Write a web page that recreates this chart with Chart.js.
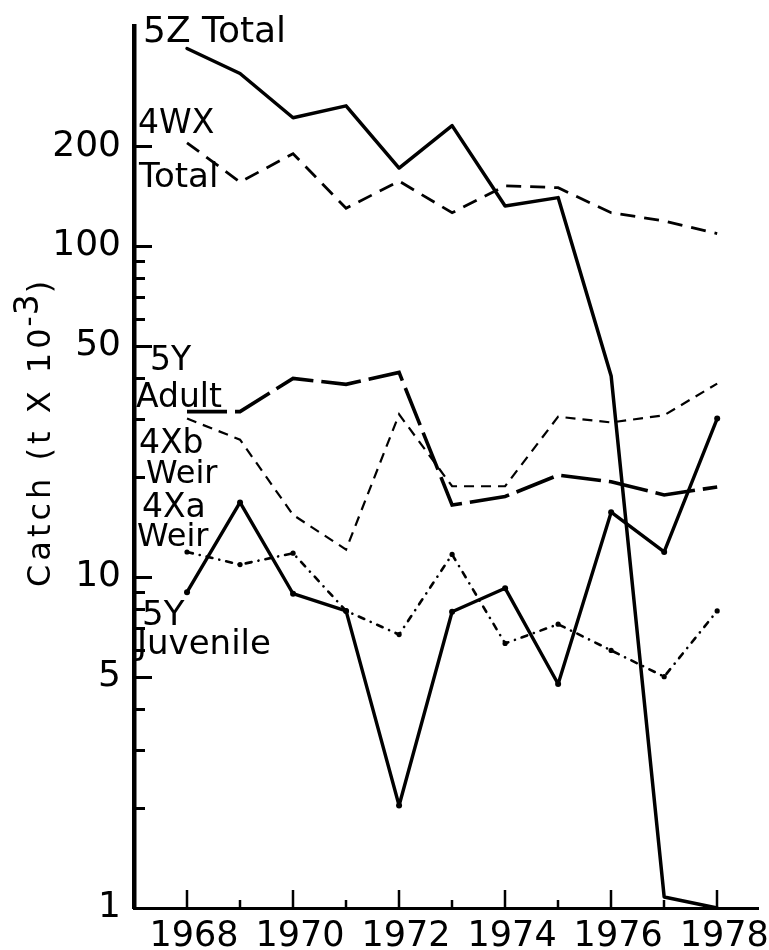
<!DOCTYPE html>
<html>
<head>
<meta charset="utf-8">
<title>Catch by stock, 1968–1978</title>
<script src="https://cdn.jsdelivr.net/npm/chart.js@4"></script>
<style>
  html, body { margin: 0; padding: 0; background: #fff; }
  #wrap { width: 769px; height: 950px; }
</style>
</head>
<body>
<div id="wrap"><canvas id="chart" width="769" height="950"></canvas></div>
<script>
// Annual catch (thousands of tonnes) by stock component
const years = [1968, 1969, 1970, 1971, 1972, 1973, 1974, 1975, 1976, 1977, 1978];
const catch5ZTotal    = [395, 332, 244, 265, 172, 231, 132, 140, 40.5, 1.08, 1.0];
const catch4WXTotal   = [205, 156, 190, 130, 157, 126, 152, 150, 126, 119, 109];
const catch5YAdult    = [31.6, 31.6, 39.8, 38.2, 41.5, 16.5, 17.5, 20.3, 19.4, 17.7, 18.7];
const catch4XbWeir    = [30.1, 26.0, 15.4, 12.1, 31.0, 18.8, 18.8, 30.5, 29.3, 30.8, 38.4];
const catch4XaWeir    = [11.9, 10.9, 11.8, 7.9, 6.7, 11.7, 6.3, 7.2, 6.0, 5.0, 7.9];
const catch5YJuvenile = [9.0, 16.8, 8.9, 7.9, 2.04, 7.85, 9.25, 4.75, 15.7, 11.9, 30.1];

// Axis ticks and which of them carry a label
const xTickYears  = [1967, 1968, 1969, 1970, 1971, 1972, 1973, 1974, 1975, 1976, 1977, 1978];
const xLabelYears = [1968, 1970, 1972, 1974, 1976, 1978];
const yTickValues = [1, 2, 3, 4, 5, 6, 7, 8, 9, 10, 20, 30, 40, 50, 60, 70, 80, 90, 100, 200];
const yLabelValues = [1, 5, 10, 50, 100, 200];

// In-plot series captions (left edge x, baseline y, font size)
const seriesCaptions = [
  { text: '5Z Total', x: 143, y: 42,  size: 36 },
  { text: '4WX',      x: 138, y: 133, size: 33 },
  { text: 'Total',    x: 139, y: 187, size: 34 },
  { text: '5Y',       x: 150, y: 370, size: 33 },
  { text: 'Adult',    x: 136, y: 407, size: 33 },
  { text: '4Xb',      x: 139, y: 453, size: 33 },
  { text: 'Weir',     x: 146, y: 483, size: 32 },
  { text: '4Xa',      x: 142, y: 517, size: 33 },
  { text: 'Weir',     x: 137, y: 546, size: 32 },
  { text: '5Y',       x: 142, y: 625, size: 34 },
  { text: 'Juvenile', x: 137, y: 654, size: 34 }
];

const FONT = '"DejaVu Sans", Verdana, sans-serif';

function pts(values) {
  return years.map((yr, i) => ({ x: yr, y: values[i] }));
}

// Short tick marks pointing into the plot area
const inwardTicks = {
  id: 'inwardTicks',
  afterDraw(chart) {
    const { ctx, chartArea, scales } = chart;
    ctx.save();
    ctx.strokeStyle = '#000';
    ctx.lineCap = 'butt';
    ctx.lineWidth = 3;
    scales.y.ticks.forEach(t => {
      const py = Math.round(scales.y.getPixelForValue(t.value)) + 0.5;
      const len = yLabelValues.includes(t.value) ? 18 : 11;
      ctx.beginPath();
      ctx.moveTo(chartArea.left, py);
      ctx.lineTo(chartArea.left + len, py);
      ctx.stroke();
    });
    ctx.lineWidth = 2.5;
    scales.x.ticks.forEach(t => {
      if (t.value === scales.x.min) return;
      const px = Math.round(scales.x.getPixelForValue(t.value));
      const len = xLabelYears.includes(t.value) ? 18 : 8;
      ctx.beginPath();
      ctx.moveTo(px, chartArea.bottom);
      ctx.lineTo(px, chartArea.bottom - len);
      ctx.stroke();
    });
    ctx.restore();
  }
};

// Series captions written inside the plot
const captions = {
  id: 'captions',
  afterDraw(chart) {
    const ctx = chart.ctx;
    ctx.save();
    ctx.fillStyle = '#000';
    ctx.textAlign = 'left';
    ctx.textBaseline = 'alphabetic';
    seriesCaptions.forEach(c => {
      ctx.font = c.size + 'px ' + FONT;
      ctx.fillText(c.text, c.x, c.y);
    });
    ctx.restore();
  }
};

// Rotated y-axis title with a superscript exponent
const yTitle = {
  id: 'yTitle',
  afterDraw(chart) {
    const ctx = chart.ctx;
    ctx.save();
    ctx.translate(50, 587);
    ctx.rotate(-Math.PI / 2);
    ctx.fillStyle = '#000';
    ctx.textAlign = 'left';
    ctx.textBaseline = 'alphabetic';
    ctx.font = '32px ' + FONT;
    ctx.letterSpacing = '4px';
    const main = 'Catch (t X 10';
    ctx.fillText(main, 0, 0);
    let cx = ctx.measureText(main).width - 2;
    ctx.letterSpacing = '0px';
    ctx.font = '28px ' + FONT;
    ctx.fillText('-', cx, -12);
    cx += ctx.measureText('-').width + 1;
    ctx.font = '33px ' + FONT;
    ctx.fillText('3', cx, -12);
    cx += ctx.measureText('3').width + 1;
    ctx.font = '32px ' + FONT;
    ctx.fillText(')', cx, 0);
    ctx.restore();
  }
};

new Chart(document.getElementById('chart'), {
  type: 'line',
  data: {
    datasets: [
      {
        label: '5Z Total', data: pts(catch5ZTotal),
        borderColor: '#000', borderWidth: 3.5, pointRadius: 0,
        borderJoinStyle: 'round', borderCapStyle: 'round'
      },
      {
        label: '4WX Total', data: pts(catch4WXTotal),
        borderColor: '#000', borderWidth: 2.8, pointRadius: 0,
        borderDash: [15, 9], borderCapStyle: 'butt'
      },
      {
        label: '5Y Adult', data: pts(catch5YAdult),
        borderColor: '#000', borderWidth: 3.6, pointRadius: 0,
        borderDash: [40, 8], borderCapStyle: 'butt'
      },
      {
        label: '4Xb Weir', data: pts(catch4XbWeir),
        borderColor: '#000', borderWidth: 2.2, pointRadius: 0,
        borderDash: [10, 7], borderCapStyle: 'butt'
      },
      {
        label: '4Xa Weir', data: pts(catch4XaWeir),
        borderColor: '#000', borderWidth: 2.6, pointRadius: 2.6,
        pointBackgroundColor: '#000', pointBorderWidth: 0,
        borderDash: [6, 7, 0.1, 7], borderCapStyle: 'round'
      },
      {
        label: '5Y Juvenile', data: pts(catch5YJuvenile),
        borderColor: '#000', borderWidth: 3.4, pointRadius: 3,
        pointBackgroundColor: '#000', pointBorderWidth: 0,
        borderJoinStyle: 'round', borderCapStyle: 'round'
      }
    ]
  },
  options: {
    responsive: false,
    animation: false,
    devicePixelRatio: 1,
    clip: false,
    layout: { padding: { top: 20, right: 11, left: 0, bottom: 0 } },
    plugins: { legend: { display: false }, tooltip: { enabled: false } },
    elements: { line: { tension: 0, fill: false } },
    scales: {
      x: {
        type: 'linear',
        min: 1967,
        max: 1978.77,
        bounds: 'data',
        grid: { display: false },
        border: { display: true, color: '#000', width: 3 },
        afterBuildTicks(scale) { scale.ticks = xTickYears.map(v => ({ value: v })); },
        afterFit(scale) { scale.height = 42; },
        ticks: {
          autoSkip: false, maxRotation: 0, minRotation: 0,
          padding: 3, labelOffset: 7, color: '#000',
          font: { family: FONT, size: 35, lineHeight: 1 },
          callback: v => (xLabelYears.includes(v) ? String(v) : '')
        }
      },
      y: {
        type: 'logarithmic',
        min: 1,
        max: 460,
        bounds: 'data',
        grid: { display: false },
        border: { display: true, color: '#000', width: 4.5 },
        afterBuildTicks(scale) { scale.ticks = yTickValues.map(v => ({ value: v })); },
        afterFit(scale) { scale.width = 134; },
        ticks: {
          autoSkip: false, padding: 5, color: '#000',
          font: { family: FONT, size: 36 },
          callback: v => (yLabelValues.includes(v) ? String(v) : '')
        }
      }
    }
  },
  plugins: [inwardTicks, captions, yTitle]
});
</script>
</body>
</html>
